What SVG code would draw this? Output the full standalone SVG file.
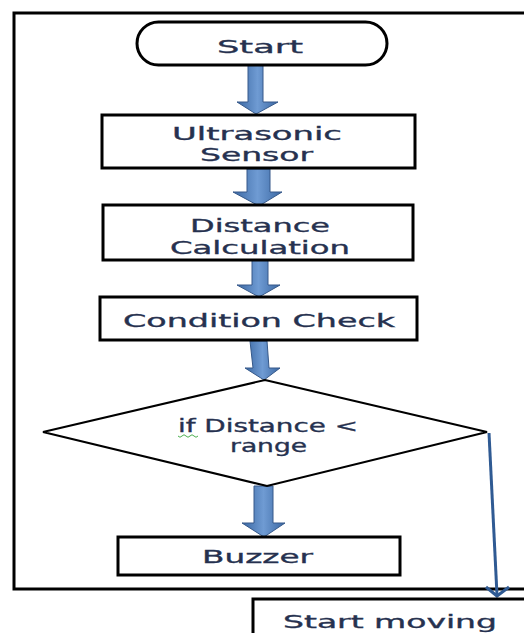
<svg xmlns="http://www.w3.org/2000/svg" width="524" height="633" viewBox="0 0 524 633">
<defs>
<linearGradient id="blk" x1="0" y1="0" x2="1" y2="0">
<stop offset="0" stop-color="#3b68a3"/>
<stop offset="0.5" stop-color="#6f9bd3"/>
<stop offset="1" stop-color="#3b68a3"/>
</linearGradient>
</defs>
<style>
.box{fill:#fff;stroke:#000;stroke-width:3}
.frame{fill:none;stroke:#000;stroke-width:3}
.t{font-family:"DejaVu Sans",Verdana,sans-serif;font-size:18.5px;fill:#26314f;stroke:#26314f;stroke-width:0.35}
.blk{fill:url(#blk);stroke:#36598a;stroke-width:1}
.thin{fill:none;stroke:#2f5a93;stroke-width:3;stroke-linejoin:miter}
</style>
<rect width="524" height="633" fill="#fff"/>
<g id="frame"><rect class="frame" x="14" y="13" width="530" height="576"/></g>
<g id="connectors">
<path class="blk" d="M248,65 H263 V102 H278 L256,114 L237,102 H248 Z"/>
<path class="blk" d="M247,169 H270 V192 H282 L259,206 L233,192 H247 Z"/>
<path class="blk" d="M252,260 H268 V285 H280 L259,297 L237,285 H252 Z"/>
<path class="blk" d="M250,341 H267 L269,368 H280 L264,380 L245,368 H253 Z"/>
<path class="blk" d="M254,486 H273 V523 H285 L264,537 L242,523 H254 Z"/>
<path class="thin" d="M489,433 L497,595"/>
<path class="thin" d="M486,587 L497,596 L509,587"/>
</g>
<g id="start">
<rect class="box" x="137" y="22" width="250" height="43" rx="21.5"/>
<text class="t" x="217" y="53" textLength="86" lengthAdjust="spacingAndGlyphs">Start</text>
</g>
<g id="ultrasonic">
<rect class="box" x="102" y="115" width="313" height="53"/>
<text class="t" x="172" y="140" textLength="170" lengthAdjust="spacingAndGlyphs">Ultrasonic</text>
<text class="t" x="200" y="161" textLength="113" lengthAdjust="spacingAndGlyphs">Sensor</text>
</g>
<g id="distance">
<rect class="box" x="103" y="205" width="310" height="55"/>
<text class="t" x="190" y="232" textLength="140" lengthAdjust="spacingAndGlyphs">Distance</text>
<text class="t" x="170" y="254" textLength="180" lengthAdjust="spacingAndGlyphs">Calculation</text>
</g>
<g id="condition">
<rect class="box" x="100" y="297" width="317" height="43"/>
<text class="t" x="123" y="327" textLength="272" lengthAdjust="spacingAndGlyphs">Condition Check</text>
</g>
<g id="decision">
<polygon points="265,380 487,432 267,486 43,432" fill="#fff" stroke="#000" stroke-width="2"/>
<text class="t" x="178" y="432" textLength="180" lengthAdjust="spacingAndGlyphs">if Distance &lt;</text>
<text class="t" x="230" y="452" textLength="77" lengthAdjust="spacingAndGlyphs">range</text>
<path d="M178,436 q2,2.5 4,0 q2,-2.5 4,0 q2,2.5 4,0 q2,-2.5 4,0 q2,2.5 4,0" fill="none" stroke="#4caf50" stroke-width="1"/>
</g>
<g id="buzzer">
<rect class="box" x="118" y="537" width="282" height="38"/>
<text class="t" x="202" y="563" textLength="111" lengthAdjust="spacingAndGlyphs">Buzzer</text>
</g>
<g id="startmoving">
<rect class="box" x="253" y="599" width="300" height="60"/>
<text class="t" x="283" y="628" textLength="214" lengthAdjust="spacingAndGlyphs">Start moving</text>
</g>
</svg>
